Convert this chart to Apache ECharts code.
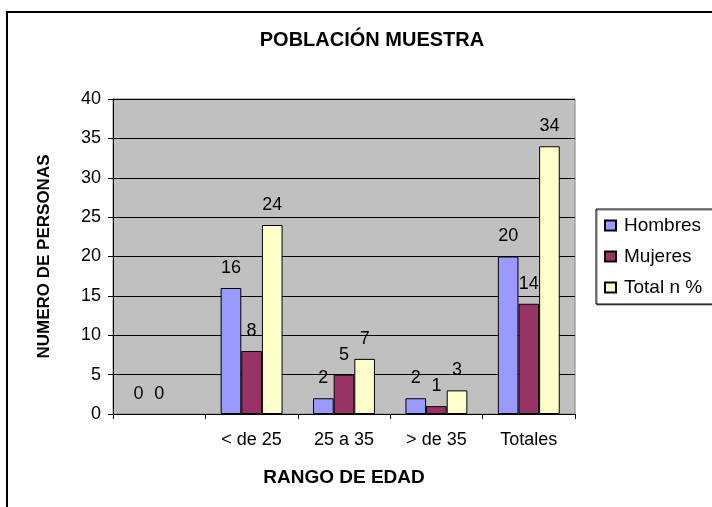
<!DOCTYPE html>
<html>
<head>
<meta charset="utf-8">
<script src="https://cdn.jsdelivr.net/npm/echarts@6/dist/echarts.min.js"></script>
<style>
  html, body { margin: 0; padding: 0; background: #fff; }
  #chart { width: 712px; height: 507px; }
</style>
</head>
<body>
<div id="chart"></div>
<script>
// rango de edad (the first category is left empty, as in the original sheet)
const categories = ["", "< de 25", "25 a 35", "> de 35", "Totales"];
const hombres = [0, 16, 2, 2, 20];
const mujeres = [0, 8, 5, 1, 14];
const totalPct = [null, 24, 7, 3, 34];
const yTicks = { min: 0, max: 40, interval: 5 };

const font = "Liberation Sans, Arial, sans-serif";

const labelStyle = {
  show: true,
  position: "top",
  distance: 11,
  color: "#000",
  fontSize: 18,
  fontFamily: font
};

// zero bars get no outline, only their label
function toItems(values) {
  return values.map(v => (v === 0 ? { value: 0, itemStyle: { borderWidth: 0 } } : v));
}

function barSeries(name, data, color) {
  return {
    name: name,
    type: "bar",
    data: toItems(data),
    barGap: "0%",
    barCategoryGap: "33%",
    itemStyle: { color: color, borderColor: "#000", borderWidth: 1 },
    label: labelStyle,
    emphasis: { disabled: true }
  };
}

const chart = echarts.init(document.getElementById("chart"));
chart.setOption({
  animation: false,
  backgroundColor: "#fff",
  textStyle: { fontFamily: font },
  title: {
    text: "POBLACIÓN MUESTRA",
    left: 367,
    top: 25,
    textAlign: "center",
    textStyle: { fontSize: 20, fontWeight: "bold", color: "#000", fontFamily: font }
  },
  graphic: [
    {
      type: "rect",
      shape: { x: 7, y: 12, width: 730, height: 520 },
      style: { fill: null, stroke: "#000", lineWidth: 2 },
      silent: true
    }
  ],
  legend: {
    orient: "vertical",
    left: 596,
    top: 209,
    itemWidth: 11,
    itemHeight: 10,
    itemGap: 12,
    padding: [7, 12, 7, 8],
    backgroundColor: "#fff",
    borderColor: "#000",
    borderWidth: 1,
    shadowColor: "rgba(0,0,0,0.5)",
    shadowOffsetX: 1,
    shadowOffsetY: 1,
    shadowBlur: 0,
    icon: "rect",
    textStyle: { fontSize: 19, color: "#000", fontFamily: font, padding: [0, 0, 0, 3] },
    data: ["Hombres", "Mujeres", "Total n %"]
  },
  grid: {
    left: 113,
    right: 137,
    top: 99,
    bottom: 93,
    show: true,
    backgroundColor: "#c0c0c0",
    borderColor: "#808080",
    borderWidth: 1
  },
  xAxis: {
    type: "category",
    data: categories,
    name: "RANGO DE EDAD",
    nameLocation: "middle",
    nameGap: 54,
    nameTextStyle: { fontSize: 19, fontWeight: "bold", color: "#000", fontFamily: font },
    axisLine: { lineStyle: { color: "#000", width: 1 } },
    axisTick: { show: true, length: 5, lineStyle: { color: "#000" } },
    axisLabel: { color: "#000", fontSize: 18, margin: 17, fontFamily: font, interval: 0 }
  },
  yAxis: {
    type: "value",
    min: yTicks.min,
    max: yTicks.max,
    interval: yTicks.interval,
    name: "NUMERO DE PERSONAS",
    nameLocation: "middle",
    nameGap: 60,
    nameTextStyle: { fontSize: 17, fontWeight: "bold", color: "#000", fontFamily: font },
    axisLine: { show: true, lineStyle: { color: "#000", width: 1 } },
    axisTick: { show: true, length: 5, lineStyle: { color: "#000" } },
    axisLabel: { color: "#000", fontSize: 18, margin: 12, fontFamily: font },
    splitLine: { show: true, lineStyle: { color: "#000", width: 1 } }
  },
  series: [
    barSeries("Hombres", hombres, "#9999ff"),
    barSeries("Mujeres", mujeres, "#993366"),
    barSeries("Total n %", totalPct, "#ffffcc")
  ]
});
</script>
</body>
</html>
